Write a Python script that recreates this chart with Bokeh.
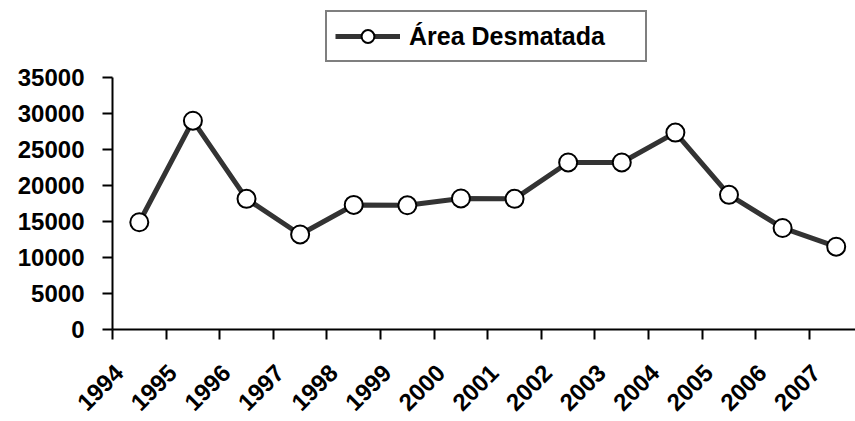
import math
from bokeh.plotting import figure
from bokeh.models import FixedTicker, CustomJSTickFormatter, Legend, LegendItem, Range1d
from bokeh.embed import file_html
from bokeh.resources import INLINE

years = ["1994", "1995", "1996", "1997", "1998", "1999", "2000",
         "2001", "2002", "2003", "2004", "2005", "2006", "2007"]
area = [14900, 29000, 18150, 13200, 17300, 17250, 18200,
        18150, 23200, 23200, 27350, 18700, 14100, 11500]
y_ticks = [0, 5000, 10000, 15000, 20000, 25000, 30000, 35000]
series_name = "Área Desmatada"

xs = [i + 0.5 for i in range(len(years))]
label_pos = [i + 0.12 for i in range(len(years))]
bounds = list(range(len(years) + 1))

FONT = "Liberation Sans"

p = figure(width=855, height=421, output_backend="svg", toolbar_location=None,
           x_range=Range1d(0, 13.86), y_range=Range1d(0, 45000),
           min_border_left=112, min_border_right=0, min_border_top=5,
           min_border_bottom=92)
p.outline_line_color = None
p.xgrid.grid_line_color = None
p.ygrid.grid_line_color = None
p.background_fill_color = "white"
p.border_fill_color = "white"

ln = p.line(xs, area, line_color="#333333", line_width=5)
sc = p.scatter(xs, area, size=18, fill_color="white", line_color="black", line_width=2)

# x axis
xa = p.xaxis[0]
xa.ticker = FixedTicker(ticks=label_pos, minor_ticks=bounds)
xa.formatter = CustomJSTickFormatter(args=dict(labels=years),
                                     code="const i = Math.floor(tick + 0.001); return labels[i] || '';")
xa.major_tick_out = 0
xa.major_tick_in = 0
xa.minor_tick_out = 10
xa.minor_tick_in = 0
xa.minor_tick_line_width = 2
xa.minor_tick_line_color = "black"
xa.axis_line_width = 2
xa.axis_line_color = "black"
xa.major_label_orientation = math.pi / 4
xa.major_label_text_font = FONT
xa.major_label_text_font_style = "bold"
xa.major_label_text_font_size = "24px"
xa.major_label_text_color = "black"
xa.major_label_standoff = 29

# y axis
ya = p.yaxis[0]
ya.ticker = FixedTicker(ticks=y_ticks)
ya.bounds = (0, 35000)
ya.minor_tick_out = 0
ya.minor_tick_in = 0
ya.major_tick_out = 10
ya.major_tick_in = 0
ya.major_tick_line_width = 2
ya.major_tick_line_color = "black"
ya.axis_line_width = 2
ya.axis_line_color = "black"
ya.major_label_text_font = FONT
ya.major_label_text_font_style = "bold"
ya.major_label_text_font_size = "24px"
ya.major_label_text_color = "black"
ya.major_label_standoff = 18

legend = Legend(items=[LegendItem(label=series_name, renderers=[ln, sc])],
                location=(213, 267), orientation="vertical")
legend.border_line_color = "black"
legend.border_line_width = 2
legend.background_fill_color = "white"
legend.background_fill_alpha = 1
legend.padding = 8
legend.margin = 0
legend.spacing = 0
legend.glyph_width = 65
legend.glyph_height = 32
legend.label_height = 32
legend.label_width = 228
legend.label_standoff = 9
legend.label_text_font = FONT
legend.label_text_font_style = "bold"
legend.label_text_font_size = "25px"
legend.label_text_color = "black"
p.add_layout(legend, "center")

open("out.html", "w").write(file_html(p, INLINE))
